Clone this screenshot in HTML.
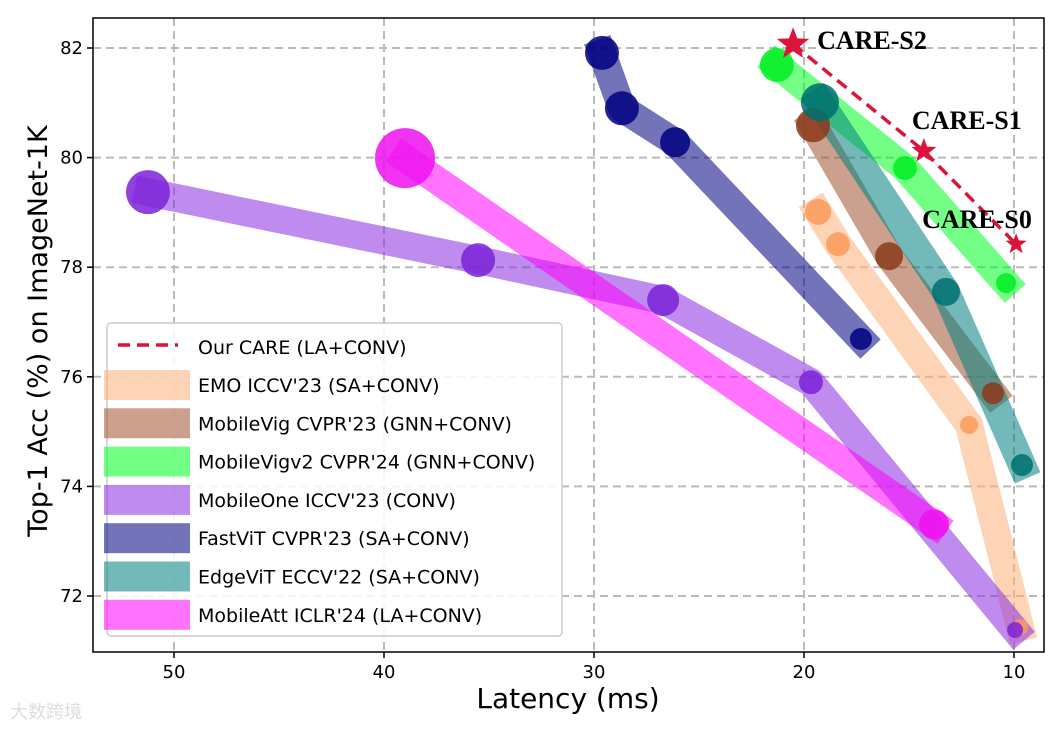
<!DOCTYPE html>
<html><head><meta charset="utf-8"><style>
body{margin:0;background:#fff;}
svg text{font-family:"DejaVu Sans","Liberation Sans",sans-serif;}
</style></head><body>
<svg id="chart" width="1063" height="728" xmlns="http://www.w3.org/2000/svg">
<g id="grid"></g>
<g id="series"></g>
<g id="axes"></g>
<g id="legend"></g>
<text x="568" y="708" font-size="28" text-anchor="middle">Latency (ms)</text>
<text transform="translate(47,331) rotate(-90)" font-size="27" text-anchor="middle">Top-1 Acc (%) on ImageNet-1K</text>
<text x="10" y="718" font-size="18" fill="#ddd" style="font-family:'Liberation Sans','Noto Sans CJK SC',sans-serif">大数跨境</text>
</svg>
<script>
const xTicks=[50,40,30,20,10];
const yTicks=[72,74,76,78,80,82];
const seriesNames=["EMO ICCV'23 (SA+CONV)","MobileVig CVPR'23 (GNN+CONV)","MobileVigv2 CVPR'24 (GNN+CONV)","MobileOne ICCV'23 (CONV)","FastViT CVPR'23 (SA+CONV)","EdgeViT ECCV'22 (SA+CONV)","MobileAtt ICLR'24 (LA+CONV)"];
const seriesX=[[19.33,18.38,12.14,9.71],[19.57,15.95,11.0],[21.29,15.19,10.38],[51.24,35.52,26.71,19.67,9.95],[29.62,28.67,26.14,17.29],[19.24,13.24,9.62],[39.0,13.81]];
const seriesY=[[79.01,78.42,75.12,71.43],[80.59,78.2,75.7],[81.69,79.81,77.71],[79.37,78.13,77.4,75.9,71.38],[81.91,80.9,80.28,76.69],[81.01,77.55,74.39],[79.99,73.31]];
const seriesSize=[[13,12,9,8],[17,14,11],[17,12,10],[22,17,16,12,8],[17,17,15,11],[19,14,11],[30,15]];
const careX=[20.52,14.29,9.9];
const careY=[82.07,80.12,78.42];
const careLabels=["CARE-S2","CARE-S1","CARE-S0"];
const lineColors=["#fdb07a","#a0522d","#00ff22","#8a2be2","#000080","#008080","#ff00ff"];
const markColors=["#fb9a5a","#8b3a1a","#00ee22","#7a22d8","#000080","#007070","#ee10ee"];
const NS="http://www.w3.org/2000/svg";
const L=93,R=1044,T=18,B=652;
const xs=v=>174+(50-v)*21.0;
const ys=v=>48+(82-v)*54.8;
function mk(tag,attrs,parent){const e=document.createElementNS(NS,tag);for(const k in attrs)e.setAttribute(k,attrs[k]);parent.appendChild(e);return e;}
const grid=document.getElementById('grid'),ser=document.getElementById('series'),ax=document.getElementById('axes'),lg=document.getElementById('legend');
xTicks.forEach(t=>{
 const g=mk('line',{x1:xs(t),x2:xs(t),y1:T,y2:B,stroke:'#bbb','stroke-width':2,'stroke-dasharray':'8,5'},grid);
 
 
 const tk=mk('line',{x1:xs(t),x2:xs(t),y1:B,y2:B+6,stroke:'#000','stroke-width':1.5},ax);
 
 
 const tx=mk('text',{x:xs(t),y:B+26,'font-size':18,'text-anchor':'middle'},ax);tx.textContent=t;
 
 
});
yTicks.forEach(t=>{
 const g=mk('line',{x1:L,x2:R,y1:ys(t),y2:ys(t),stroke:'#bbb','stroke-width':2,'stroke-dasharray':'8,5'},grid);
 
 
 const tk=mk('line',{x1:L-6,x2:L,y1:ys(t),y2:ys(t),stroke:'#000','stroke-width':1.5},ax);
 
 
 const tx=mk('text',{x:L-10,y:ys(t)+6,'font-size':18,'text-anchor':'end'},ax);tx.textContent=t;
 
 
});
const fr=mk('rect',{x:L,y:T,width:R-L,height:B-T,fill:'none',stroke:'#000','stroke-width':1.5},ax);


seriesNames.forEach((n,i)=>{
 const pts=seriesX[i].map((x,j)=>xs(x)+','+ys(seriesY[i][j])).join(' ');
 const pl=mk('polyline',{points:pts,fill:'none',stroke:lineColors[i],'stroke-width':28,'stroke-opacity':0.55,'stroke-linecap':'square','stroke-linejoin':'round'},ser);
 
 
});
seriesNames.forEach((n,i)=>{
 seriesX[i].forEach((x,j)=>{
  const c=mk('circle',{cx:xs(x),cy:ys(seriesY[i][j]),r:seriesSize[i][j],fill:markColors[i],'fill-opacity':0.85},ser);
  
  
 });
});
const cp=careX.map((x,j)=>xs(x)+','+ys(careY[j])).join(' ');
const cl=mk('polyline',{points:cp,fill:'none',stroke:'#dc143c','stroke-width':3.5,'stroke-dasharray':'12,7'},ser);


function star(cx,cy,r){let p=[];for(let k=0;k<10;k++){const a=-Math.PI/2+k*Math.PI/5,rr=k%2?r*0.42:r;p.push((cx+rr*Math.cos(a)).toFixed(1)+','+(cy+rr*Math.sin(a)).toFixed(1));}return p.join(' ');}
const starR=[17,13,11];
const labOff=[[24,5],[-12,-22],[-94,-16]];
careX.forEach((x,j)=>{
 const s=mk('polygon',{points:star(xs(x),ys(careY[j]),starR[j]),fill:'#dc143c'},ser);
 
 
 const t=mk('text',{x:xs(x)+labOff[j][0],y:ys(careY[j])+labOff[j][1],'font-size':26,'font-weight':'bold',style:'font-family:"Liberation Serif",serif'},ser);
 t.textContent=careLabels[j];
 
 
});
const lb=mk('rect',{x:107,y:323,width:455,height:313,rx:4,fill:'#fff','fill-opacity':0.85,stroke:'#ccc','stroke-width':1.5},lg);


const l0=mk('line',{x1:118,x2:178,y1:345,y2:345,stroke:'#dc143c','stroke-width':3.5,'stroke-dasharray':'12,7'},lg);


const t0=mk('text',{x:198,y:354,'font-size':19},lg);t0.textContent='Our CARE (LA+CONV)';


seriesNames.forEach((n,i)=>{
 const y=385+i*38.3;
 const sw=mk('rect',{x:104,y:y-15,width:86,height:30,fill:lineColors[i],'fill-opacity':0.55},lg);
 
 
 const t=mk('text',{x:198,y:y+7,'font-size':19},lg);t.textContent=n;
 
 
});
</script>
</body></html>
